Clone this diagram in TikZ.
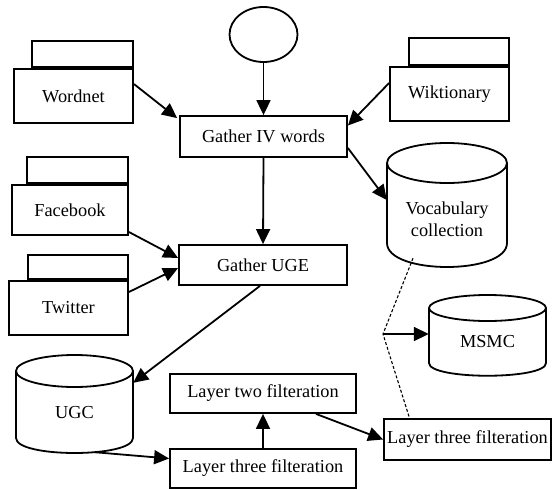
\documentclass[tikz,border=0pt]{standalone}
\usepackage{fontspec}
\setmainfont{Liberation Serif}
\usetikzlibrary{arrows.meta,shapes.geometric,calc}
\begin{document}
\begin{tikzpicture}[x=1pt,y=-1pt,
  every node/.style={font=\rmfamily\fontsize{18.3}{22}\selectfont, inner sep=0pt},
  ln/.style={line width=1.8pt},
  proc/.style={draw, ln},
  arr/.style={ln, -{Triangle[length=15pt,width=14pt]}},
  dsh/.style={line width=1.1pt, dash pattern=on 3pt off 2pt}]
\useasboundingbox (0,0) rectangle (552,490);

% start ellipse
\node[draw, ln, ellipse, minimum width=68pt, minimum height=55pt] (start) at (263.5,34.5) {};

% process boxes
\node[proc, minimum width=167pt, minimum height=41pt] (giv) at (263.5,136.5) {Gather IV words};
\node[proc, minimum width=168pt, minimum height=40pt] (guge) at (263,265) {Gather UGE};
\node[proc, minimum width=186pt, minimum height=39pt] (l2) at (263,393.5) {Layer two filteration};
\node[proc, minimum width=186pt, minimum height=39pt] (l3b) at (263,468.5) {Layer three filteration};
\node[proc, minimum width=167pt, minimum height=41pt] (l3r) at (467.5,439.5) {Layer three filteration};

% sources with tabs
\node[proc, minimum width=119pt, minimum height=54pt] (wordnet) at (73.5,96) {Wordnet};
\node[proc, minimum width=101pt, minimum height=26pt, anchor=south east] (wordnet-tab) at (wordnet.north east) {};
\node[proc, minimum width=119pt, minimum height=54pt] (wikt) at (449.5,94) {Wiktionary};
\node[proc, minimum width=100pt, minimum height=27pt, anchor=south east] (wikt-tab) at (wikt.north east) {};
\node[proc, minimum width=116pt, minimum height=50pt] (fb) at (70,210) {Facebook};
\node[proc, minimum width=101pt, minimum height=26pt, anchor=south east] (fb-tab) at (fb.north east) {};
\node[proc, minimum width=119pt, minimum height=54pt] (tw) at (68.5,308) {Twitter};
\node[proc, minimum width=100pt, minimum height=24pt, anchor=south east] (tw-tab) at (tw.north east) {};

% cylinders: bodies (for anchors) and outlines
\node[minimum width=120pt, minimum height=80pt] (voc) at (447,203) {};
\node[align=center] (voc-t) at (447,219) {Vocabulary\\collection};
\draw[ln] (447,163) ellipse [x radius=60pt, y radius=20pt];
\draw[ln] (387,163) -- (387,243) .. controls (387,275) and (507,275) .. (507,243) -- (507,163);

\node[minimum width=117pt, minimum height=67pt] (ugc) at (74.5,404.5) {};
\node (ugc-t) at (74.5,413) {UGC};
\draw[ln] (74.5,371) ellipse [x radius=58.5pt, y radius=16pt];
\draw[ln] (16,371) -- (16,438) .. controls (16,458) and (133,458) .. (133,438) -- (133,371);

\node[minimum width=117pt, minimum height=55pt] (msmc) at (487.5,335.5) {};
\node (msmc-t) at (487.5,342) {MSMC};
\draw[ln] (487.5,308) ellipse [x radius=58.5pt, y radius=13pt];
\draw[ln] (429,308) -- (429,363) .. controls (429,380) and (546,380) .. (546,363) -- (546,308);

% connectors
\draw[arr] (start.south) -- (giv.north);
\draw[arr] ([yshift=12pt]wordnet.east) -- ([xshift=-2pt,yshift=-3pt]giv.north west);
\draw[arr] ([yshift=11pt]wikt.west) -- ([yshift=11pt]giv.east);
\draw[arr] ([yshift=-11.5pt]giv.east) -- ([yshift=3pt]voc.west);
\draw[arr] (giv.south) -- (guge.north);
\draw[arr] ([yshift=-22pt]fb.east) -- ([yshift=7pt]guge.west);
\draw[arr] ([yshift=16pt]tw.east) -- ([yshift=-3pt]guge.west);
\draw[arr] ([xshift=-3pt]guge.south) -- ([yshift=-12pt]ugc.north east);
\draw[arr] ([xshift=20pt,yshift=-14pt]ugc.south) -- ([yshift=10pt]l3b.west);
\draw[arr] (l3b.north) -- (l2.south);
\draw[arr] ([xshift=53pt]l2.south) -- (l3r.west);

\coordinate (junc) at (383,334);
\draw[dsh] ([xshift=-34pt,yshift=-15pt]voc.south) -- (junc) -- ([xshift=-58pt]l3r.north);
\draw[arr] (junc) -- (junc -| msmc.west);
\end{tikzpicture}
\end{document}
